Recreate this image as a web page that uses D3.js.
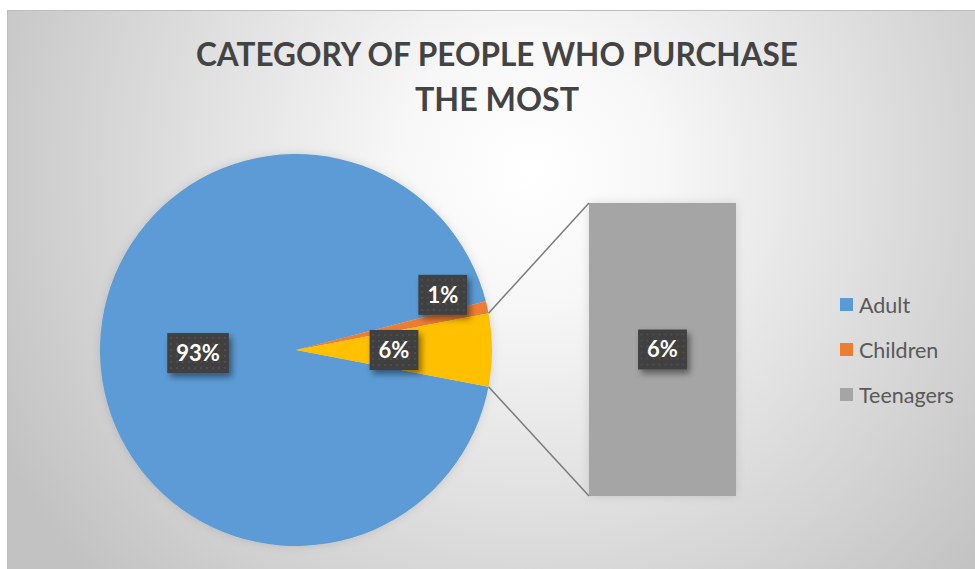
<!DOCTYPE html>
<html>
<head>
<meta charset="utf-8">
<script src="https://cdn.jsdelivr.net/npm/d3@7"></script>
<style>
  html, body { margin: 0; padding: 0; background: #ffffff; }
  svg { display: block; }
</style>
</head>
<body>
<svg id="chart" width="975" height="569"></svg>
<script>
// Purchase share by customer group
const categories = ["Adult", "Children", "Teenagers"];
const values = [93, 1, 6];
const labels = ["93%", "1%", "6%"];
// Group(s) split out into the secondary bar
const barCategories = ["Teenagers"];
const barValues = [6];
const barLabels = ["6%"];
const titleLines = ["CATEGORY OF PEOPLE WHO PURCHASE", "THE MOST"];

const pieColors = { Adult: "#5B9BD5", Children: "#ED7D31", Teenagers: "#FFC000" };
const legendColors = { Adult: "#5B9BD5", Children: "#ED7D31", Teenagers: "#A5A5A5" };
const barColor = "#A5A5A5";

const W = 975, H = 569;
const svg = d3.select("#chart");
const defs = svg.append("defs");

// chart area background: soft radial gradient
const grad = defs.append("radialGradient")
  .attr("id", "bg").attr("gradientUnits", "userSpaceOnUse")
  .attr("cx", 530).attr("cy", 170).attr("r", 600);
grad.append("stop").attr("offset", 0).attr("stop-color", "#ffffff");
grad.append("stop").attr("offset", 0.22).attr("stop-color", "#f7f7f7");
grad.append("stop").attr("offset", 1).attr("stop-color", "#c2c2c2");

// dotted texture for the value boxes
const pat = defs.append("pattern").attr("id", "dots")
  .attr("patternUnits", "userSpaceOnUse").attr("width", 6).attr("height", 6);
pat.append("rect").attr("width", 6).attr("height", 6).attr("fill", "#3f3f3f");
pat.append("rect").attr("x", 2).attr("y", 2).attr("width", 2).attr("height", 2).attr("fill", "#4e4e4e");

const shadow = defs.append("filter").attr("id", "shadow")
  .attr("x", "-30%").attr("y", "-30%").attr("width", "170%").attr("height", "180%");
shadow.append("feDropShadow").attr("dx", 3).attr("dy", 4).attr("stdDeviation", 3)
  .attr("flood-color", "#000").attr("flood-opacity", 0.45);

const glow = defs.append("filter").attr("id", "glow")
  .attr("x", "-10%").attr("y", "-10%").attr("width", "120%").attr("height", "120%");
glow.append("feDropShadow").attr("dx", 0).attr("dy", 0).attr("stdDeviation", 5)
  .attr("flood-color", "#000").attr("flood-opacity", 0.12);

svg.append("rect")
  .attr("x", 7.5).attr("y", 10.5).attr("width", W).attr("height", H)
  .attr("fill", "url(#bg)").attr("stroke", "#bdbdbd").attr("stroke-width", 1);

// title
const title = svg.append("g").attr("font-family", "Lato, 'Open Sans', sans-serif")
  .attr("font-weight", 700).attr("fill", "#434343").attr("text-anchor", "middle");
const titleWidths = [602, 164];
titleLines.forEach((t, i) => {
  title.append("text")
    .attr("x", 497).attr("y", 66 + i * 45)
    .attr("font-size", 33)
    .attr("textLength", titleWidths[i]).attr("lengthAdjust", "spacingAndGlyphs")
    .text(t);
});

// primary pie
const cx = 296, cy = 350, R = 196;
const total = d3.sum(values);
const otherShare = d3.sum(barValues) / total;
const start = Math.PI / 2 + Math.PI * otherShare;
const pie = d3.pie().sort(null).value(d => d.value)
  .startAngle(start).endAngle(start + 2 * Math.PI);
const data = categories.map((c, i) => ({ cat: c, value: values[i], label: labels[i] }));
const arcs = pie(data);
const arc = d3.arc().innerRadius(0).outerRadius(R);

const pieG = svg.append("g").attr("transform", `translate(${cx},${cy})`);
pieG.append("g").attr("filter", "url(#glow)")
  .selectAll("path").data(arcs).join("path")
  .attr("d", arc).attr("fill", d => pieColors[d.data.cat]);

// secondary bar
const barX = d3.scaleBand().domain(["other"]).range([589, 736]);
const barY = d3.scaleLinear().domain([0, d3.sum(barValues)]).range([496, 203]);
const stack = [];
let acc = 0;
barValues.forEach((v, i) => { stack.push({ cat: barCategories[i], y0: acc, y1: acc + v, label: barLabels[i] }); acc += v; });
svg.append("g").attr("filter", "url(#glow)")
  .selectAll("rect").data(stack).join("rect")
  .attr("x", barX("other")).attr("width", barX.bandwidth())
  .attr("y", d => barY(d.y1)).attr("height", d => barY(d.y0) - barY(d.y1))
  .attr("fill", barColor);

// connector lines from the split slice to the bar
const other = arcs.find(a => a.data.cat === barCategories[0]);
const pt = a => [cx + R * Math.sin(a), cy - R * Math.cos(a)];
const pTop = pt(other.startAngle), pBot = pt(other.endAngle);
const conn = [
  [pTop, [barX("other"), barY(d3.sum(barValues))]],
  [pBot, [barX("other"), barY(0)]]
];
svg.append("g").selectAll("line").data(conn).join("line")
  .attr("x1", d => d[0][0]).attr("y1", d => d[0][1])
  .attr("x2", d => d[1][0]).attr("y2", d => d[1][1])
  .attr("stroke", "#7b7b7b").attr("stroke-width", 1.5);

// value boxes
function valueBox(x, y, text) {
  const g = svg.append("g").attr("transform", `translate(${x},${y})`);
  const t = g.append("text")
    .attr("text-anchor", "middle").attr("dy", "0.36em")
    .attr("font-family", "Lato, 'Open Sans', sans-serif")
    .attr("font-weight", 700).attr("font-size", 22).attr("fill", "#ffffff")
    .text(text);
  const w = t.node().getComputedTextLength() + 18;
  const h = 40;
  g.insert("rect", "text")
    .attr("x", -w / 2).attr("y", -h / 2).attr("width", w).attr("height", h)
    .attr("fill", "url(#dots)").attr("filter", "url(#shadow)");
}

arcs.forEach(a => {
  const mid = (a.startAngle + a.endAngle) / 2;
  let r = R * 0.5, ang = mid;
  // small slice: pushed outward and nudged clear of its neighbour's box
  if (a.data.value < 3) { r = R * 0.8; ang = mid - 8 * Math.PI / 180; }
  valueBox(cx + r * Math.sin(ang), cy - r * Math.cos(ang), a.data.label);
});
stack.forEach(d => {
  valueBox(barX("other") + barX.bandwidth() / 2, (barY(d.y0) + barY(d.y1)) / 2, d.label);
});

// legend
const legend = svg.append("g").attr("transform", "translate(840,305)");
const items = legend.selectAll("g").data(categories).join("g")
  .attr("transform", (d, i) => `translate(0,${i * 45})`);
items.append("rect").attr("x", 0).attr("y", -7).attr("width", 13).attr("height", 13)
  .attr("fill", d => legendColors[d]);
items.append("text").attr("x", 19).attr("dy", "0.36em")
  .attr("font-family", "Lato, 'Open Sans', sans-serif").attr("font-size", 21.5)
  .attr("fill", "#595959").text(d => d);
</script>
</body>
</html>
